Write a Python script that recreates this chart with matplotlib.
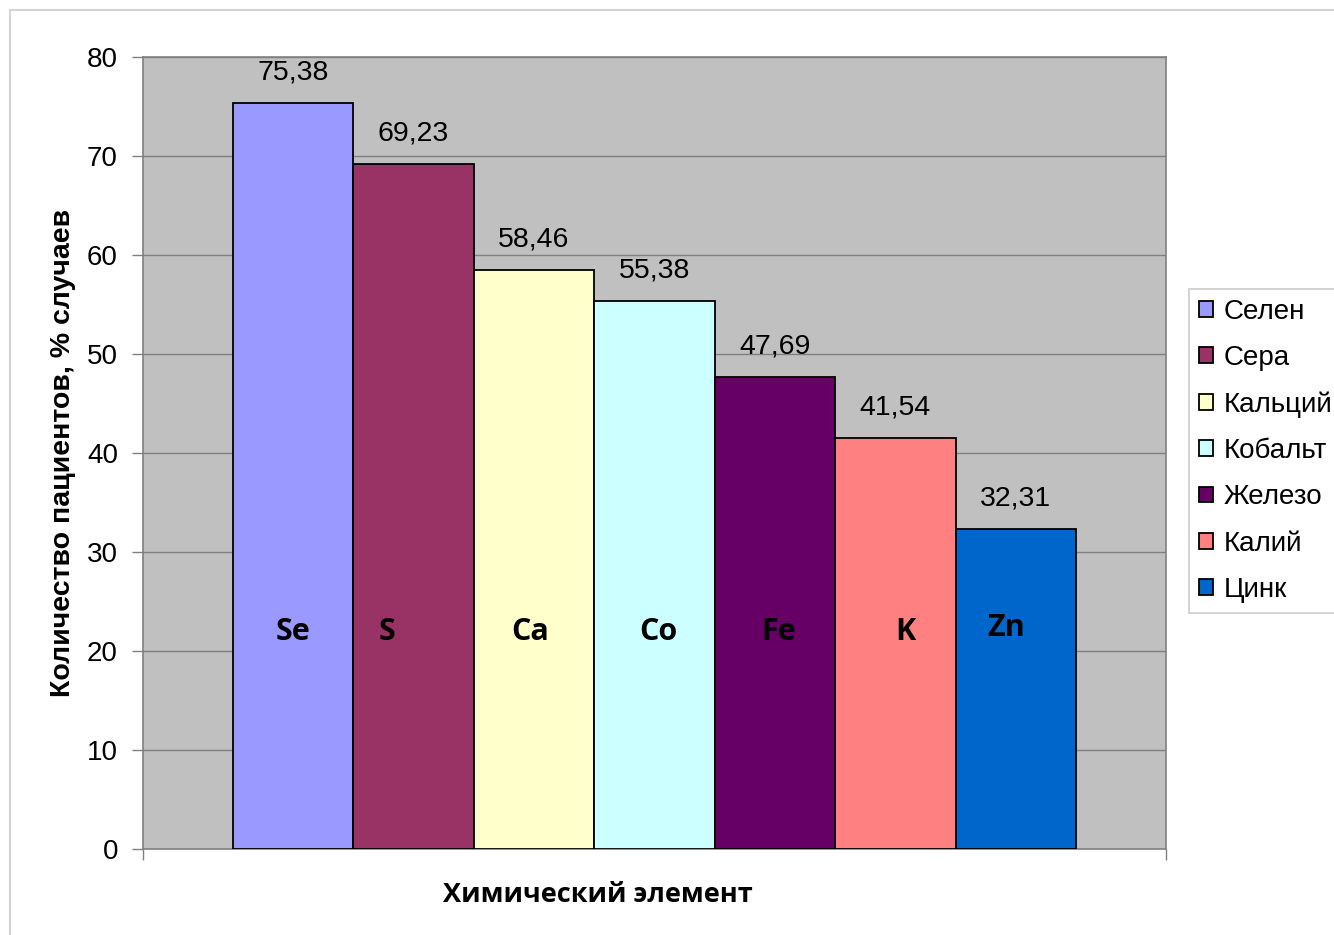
import numpy as np
import matplotlib.pyplot as plt
from matplotlib.patches import Rectangle

# доля пациентов с дефицитом элемента, %
elements = ["Селен", "Сера", "Кальций", "Кобальт", "Железо", "Калий", "Цинк"]
symbols = ["Se", "S", "Ca", "Co", "Fe", "K", "Zn"]
values = [75.38, 69.23, 58.46, 55.38, 47.69, 41.54, 32.31]
colors = ["#9999FF", "#993366", "#FFFFCC", "#CCFFFF", "#660066", "#FF8080", "#0066CC"]

yticks = [0, 10, 20, 30, 40, 50, 60, 70, 80]

# сдвиги подписей символов внутри столбцов (в ширинах столбца)
sym_dx = [0.0, -0.22, -0.03, 0.03, 0.03, 0.08, -0.08]
sym_y = [21.9, 21.9, 21.9, 21.9, 21.9, 21.9, 22.3]

plt.rcParams['font.family'] = ['Liberation Sans', 'DejaVu Sans']

fig = plt.figure(figsize=(13.34, 9.35), dpi=100)
fig.patch.set_facecolor("white")
ax = fig.add_axes([143/1334, 1-849/935, (1166-143)/1334, (849-57)/935])
ax.set_facecolor("#C0C0C0")

x = np.arange(len(values))
bars = ax.bar(x, values, width=1.0, color=colors, edgecolor="black", linewidth=1.3,
              label=elements, zorder=3)

for xi, v in zip(x, values):
    ax.text(xi, v + 1.75, ("%.2f" % v).replace(".", ","), ha="center", va="bottom",
            fontsize=20.5, color="black")

for xi, s, dx, ys in zip(x, symbols, sym_dx, sym_y):
    ax.text(xi + dx, ys, s, ha="center", va="center", fontsize=22, fontweight="bold",
            family=["Open Sans", "DejaVu Sans"], color="black", zorder=4)

ax.set_xlim(-1.247, 7.247)
ax.set_ylim(0, 80)
ax.set_yticks(yticks)
ax.yaxis.grid(True, color="#808080", linewidth=1.0, zorder=0)
ax.set_axisbelow(True)
ax.tick_params(axis="y", labelsize=20, length=8, color="#808080", width=1, pad=10)
ax.set_xticks([-1.247, 7.247])
ax.set_xticklabels(["", ""])
ax.tick_params(axis="x", length=8, color="#808080", width=1, direction="out")
for sp in ax.spines.values():
    sp.set_color("#808080")
    sp.set_linewidth(1.2)

ax.set_ylabel("Количество пациентов, % случаев", fontsize=20.5, fontweight="bold", labelpad=8)
fig.text(598/1334, 1-895/935, "Химический элемент", ha="center", va="center",
         fontsize=19.5, fontweight="bold", family=["Open Sans", "DejaVu Sans"])

leg = fig.legend(handles=bars, labels=elements, loc="upper left",
                 bbox_to_anchor=(1189/1334, 1-289/935), fontsize=20, frameon=True,
                 fancybox=False, edgecolor="#BFBFBF", handlelength=0.5, handleheight=0.5,
                 handletextpad=0.4, labelspacing=0.73, borderpad=0.35, borderaxespad=0)
leg.get_frame().set_linewidth(1.2)

# рамка области диаграммы
fig.patches.append(Rectangle((10/1334, -0.1), 1.1, 1.1 - 10/935, transform=fig.transFigure,
                             fill=False, edgecolor="#D4D4D4", linewidth=1.5, zorder=0))

fig.savefig("out.png", dpi=100)
